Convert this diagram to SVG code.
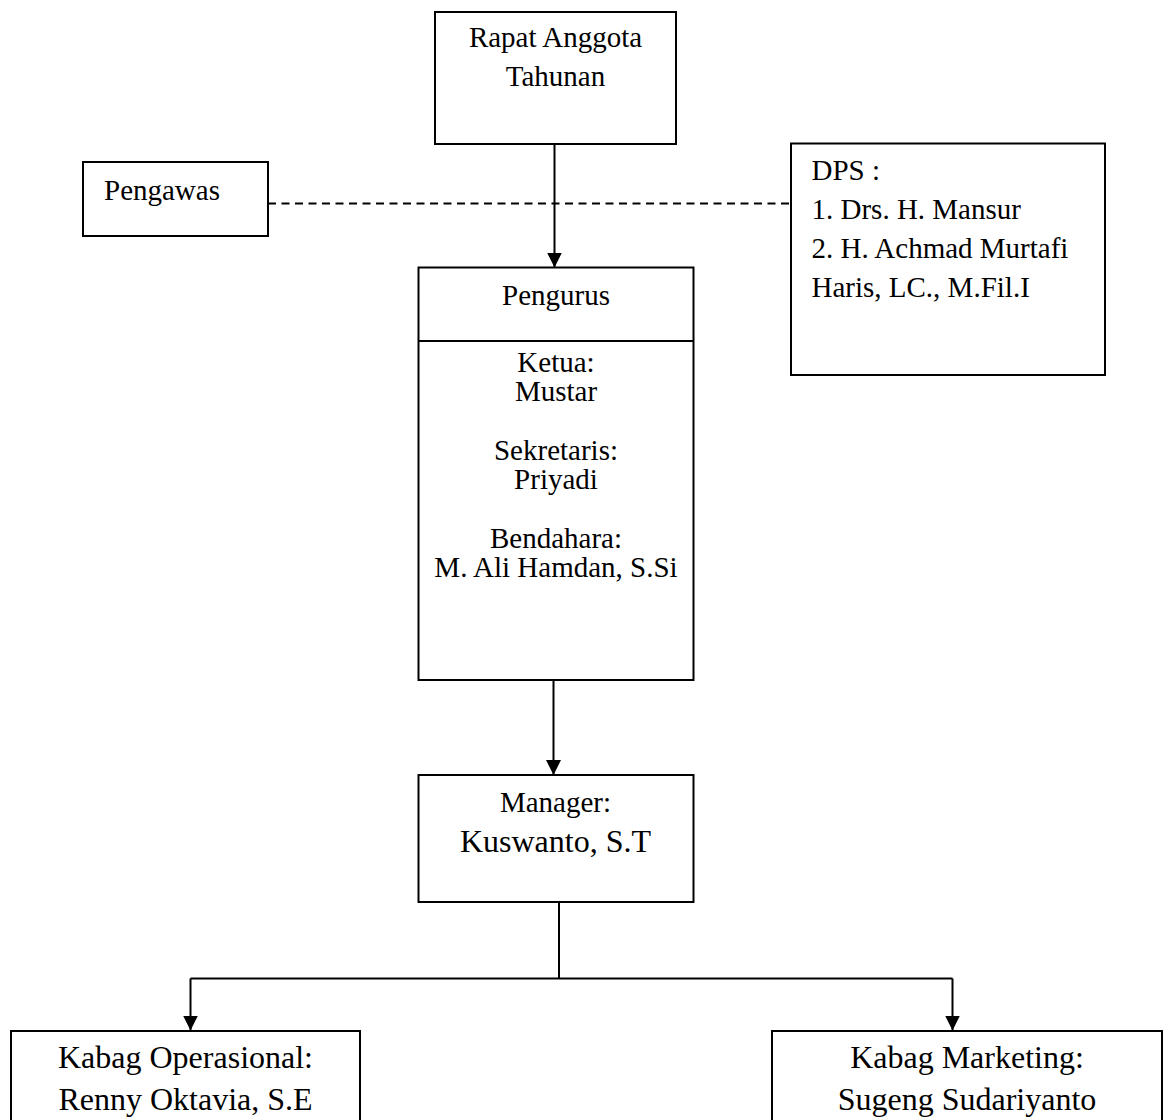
<svg xmlns="http://www.w3.org/2000/svg" width="1163" height="1120" viewBox="0 0 1163 1120">
<style>
  .box { fill: #ffffff; stroke: #000000; stroke-width: 2; }
  .t { font-family: "Liberation Serif", "Times New Roman", serif; font-size: 29px; fill: #000000; }
  .c { text-anchor: middle; }
  .big { font-size: 32px; }
  .conn { fill: none; stroke: #000000; stroke-width: 2; }
  .dash { fill: none; stroke: #000000; stroke-width: 2; stroke-dasharray: 8 5.5; }
</style>
<defs>
  <marker id="arrow" viewBox="0 0 15 15" refX="15" refY="7.5" markerWidth="15" markerHeight="15" markerUnits="userSpaceOnUse" orient="auto">
    <path d="M0,0 L15,7.5 L0,15 Z" fill="#000000"/>
  </marker>
</defs>
<rect width="1163" height="1120" fill="#ffffff"/>

<g id="connectors">
  <line class="conn" x1="554.5" y1="144" x2="554.5" y2="267.5" marker-end="url(#arrow)"/>
  <line class="dash" x1="268" y1="203.5" x2="790.5" y2="203.5"/>
  <line class="conn" x1="553.5" y1="680" x2="553.5" y2="775" marker-end="url(#arrow)"/>
  <polyline class="conn" points="559,902 559,978.5"/>
  <polyline class="conn" points="190.5,978.5 952.5,978.5"/>
  <line class="conn" x1="190.5" y1="978.5" x2="190.5" y2="1030.5" marker-end="url(#arrow)"/>
  <line class="conn" x1="952.5" y1="978.5" x2="952.5" y2="1030.5" marker-end="url(#arrow)"/>
</g>

<g id="rapat">
  <rect class="box" x="435" y="12" width="241" height="132"/>
  <text class="t c" x="555.5" y="47">Rapat Anggota</text>
  <text class="t c" x="555.5" y="86">Tahunan</text>
</g>

<g id="pengawas">
  <rect class="box" x="83" y="162" width="185" height="74"/>
  <text class="t" x="104" y="200">Pengawas</text>
</g>

<g id="dps">
  <rect class="box" x="791" y="143.5" width="314" height="231.5"/>
  <text class="t" x="811.5" y="180">DPS :</text>
  <text class="t" x="811.5" y="219">1. Drs. H. Mansur</text>
  <text class="t" x="811.5" y="258">2. H. Achmad Murtafi</text>
  <text class="t" x="811.5" y="297">Haris, LC., M.Fil.I</text>
</g>

<g id="pengurus">
  <rect class="box" x="418.5" y="267.5" width="275" height="412.5"/>
  <line class="conn" x1="418.5" y1="341" x2="693.5" y2="341"/>
  <text class="t c" x="556" y="305">Pengurus</text>
  <text class="t c" x="556" y="372">Ketua:<tspan x="556" dy="28.5">Mustar</tspan></text>
  <text class="t c" x="556" y="460">Sekretaris:<tspan x="556" dy="28.5">Priyadi</tspan></text>
  <text class="t c" x="556" y="548">Bendahara:<tspan x="556" dy="29">M. Ali Hamdan, S.Si</tspan></text>
</g>

<g id="manager">
  <rect class="box" x="418.5" y="775" width="275" height="127"/>
  <text class="t c" x="555.5" y="812">Manager:</text>
  <text class="t c big" x="555.5" y="852">Kuswanto, S.T</text>
</g>

<g id="kabag-operasional">
  <rect class="box" x="11" y="1031" width="349" height="100"/>
  <text class="t c big" x="185.5" y="1068">Kabag Operasional:</text>
  <text class="t c big" x="185.5" y="1110">Renny Oktavia, S.E</text>
</g>

<g id="kabag-marketing">
  <rect class="box" x="772" y="1031" width="390" height="100"/>
  <text class="t c big" x="967" y="1068">Kabag Marketing:</text>
  <text class="t c big" x="967" y="1110">Sugeng Sudariyanto</text>
</g>
</svg>
